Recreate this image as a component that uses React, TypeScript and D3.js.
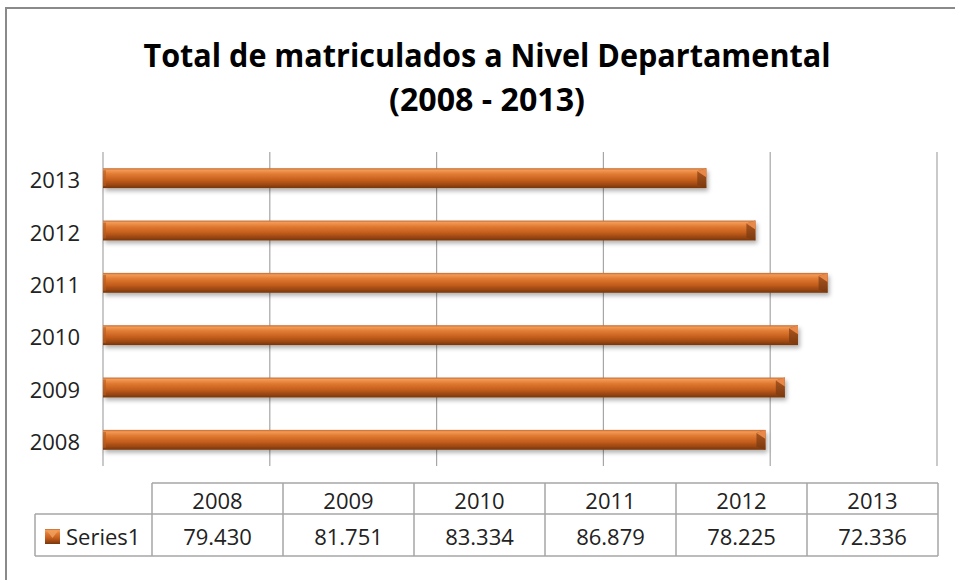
import React, { useRef, useEffect } from 'react';
import * as d3 from 'd3';

// chart data
const years = ['2008', '2009', '2010', '2011', '2012', '2013'];
const values = [79.43, 81.751, 83.334, 86.879, 78.225, 72.336];
const seriesName = 'Series1';
const xTicks = [0, 20, 40, 60, 80, 100];
const titleLines = ['Total de matriculados a Nivel Departamental', '(2008 - 2013)'];

const W = 955;
const H = 580;
const FONT = '"Open Sans", sans-serif';

export default function App() {
  const svgRef = useRef<SVGSVGElement>(null);

  useEffect(() => {
    if (!svgRef.current) return;
    const svg = d3.select(svgRef.current);
    svg.selectAll('*').remove();

    const data = years.map((y, i) => ({ year: y, value: values[i] }));

    // defs: gradients + shadow
    const defs = svg.append('defs');
    const grad = defs.append('linearGradient')
      .attr('id', 'barGrad')
      .attr('x1', 0).attr('y1', 0).attr('x2', 0).attr('y2', 1);
    [
      [0, '#c06a34'],
      [0.1, '#f39a55'],
      [0.3, '#e07a32'],
      [0.6, '#c45e1c'],
      [0.85, '#984512'],
      [1, '#76360e'],
    ].forEach(([o, c]) => grad.append('stop').attr('offset', o as number).attr('stop-color', c as string));

    const endGrad = defs.append('linearGradient')
      .attr('id', 'endGrad')
      .attr('x1', 0).attr('y1', 0).attr('x2', 0).attr('y2', 1);
    [
      [0, '#b05a22'],
      [1, '#7a380e'],
    ].forEach(([o, c]) => endGrad.append('stop').attr('offset', o as number).attr('stop-color', c as string));

    const shadow = defs.append('filter')
      .attr('id', 'shadow')
      .attr('x', '-5%').attr('y', '-50%').attr('width', '110%').attr('height', '200%');
    shadow.append('feDropShadow')
      .attr('dx', 2).attr('dy', 3).attr('stdDeviation', 2)
      .attr('flood-color', '#000').attr('flood-opacity', 0.3);

    // outer border (right/bottom run off the picture)
    svg.append('rect')
      .attr('x', 6).attr('y', 8)
      .attr('width', W + 20).attr('height', H + 20)
      .attr('fill', '#fff')
      .attr('stroke', '#8a8a8a')
      .attr('stroke-width', 2);

    // title
    const title = svg.append('g').attr('font-family', FONT).attr('font-weight', 'bold').attr('fill', '#000');
    const titleW = [687, 196];
    titleLines.forEach((t, i) => {
      title.append('text')
        .attr('x', 487)
        .attr('y', 67 + i * 44)
        .attr('text-anchor', 'middle')
        .attr('font-size', 33)
        .attr('textLength', titleW[i])
        .attr('lengthAdjust', 'spacingAndGlyphs')
        .text(t);
    });

    // scales
    const x = d3.scaleLinear().domain([0, 100]).range([103, 937]);
    const y = d3.scaleBand()
      .domain([...years].reverse())
      .range([152, 466])
      .paddingInner(0.62)
      .paddingOuter(0.31);

    // grid lines
    svg.append('g')
      .selectAll('line')
      .data(xTicks)
      .join('line')
      .attr('x1', d => x(d)).attr('x2', d => x(d))
      .attr('y1', 152).attr('y2', 466)
      .attr('stroke', '#a6a6a6')
      .attr('stroke-width', 1.2);

    // y axis labels
    svg.append('g')
      .selectAll('text')
      .data(years)
      .join('text')
      .attr('x', 80)
      .attr('y', d => y(d)! + y.bandwidth() / 2 + 1)
      .attr('text-anchor', 'end')
      .attr('dominant-baseline', 'central')
      .attr('font-family', FONT)
      .attr('font-size', 22)
      .attr('fill', '#222')
      .text(d => d);

    // bars
    const bars = svg.append('g')
      .selectAll('g.bar')
      .data(data)
      .join('g')
      .attr('class', 'bar');

    const bw = y.bandwidth();
    bars.append('rect')
      .attr('x', x(0))
      .attr('y', d => y(d.year)!)
      .attr('width', d => x(d.value) - x(0))
      .attr('height', bw)
      .attr('fill', 'url(#barGrad)')
      .attr('filter', 'url(#shadow)');

    // bevel at the right end
    bars.append('polygon')
      .attr('points', d => {
        const x1 = x(d.value), y0 = y(d.year)!, y1 = y0 + bw;
        return [[x1 - 9, y0 + 3], [x1, y0], [x1, y1], [x1 - 9, y1 - 3]].map(p => p.join(',')).join(' ');
      })
      .attr('fill', 'url(#endGrad)');
    bars.append('polygon')
      .attr('points', d => {
        const x1 = x(d.value), y0 = y(d.year)!;
        return [[x1 - 9, y0 + 3], [x1, y0], [x1, y0 + 9]].map(p => p.join(',')).join(' ');
      })
      .attr('fill', '#e8894a');
    // left bevel edge
    bars.append('rect')
      .attr('x', x(0))
      .attr('y', d => y(d.year)! + 2)
      .attr('width', 3)
      .attr('height', bw - 4)
      .attr('fill', '#b85c1e')
      .attr('opacity', 0.6);

    // data table
    const colX0 = 152, colW = 131;
    const rowTop = 483, rowMid = 514, rowBot = 556, leftX = 35;
    const table = svg.append('g').attr('font-family', FONT).attr('font-size', 22).attr('fill', '#222');
    const line = (x1: number, y1: number, x2: number, y2: number) =>
      table.append('line')
        .attr('x1', x1).attr('y1', y1).attr('x2', x2).attr('y2', y2)
        .attr('stroke', '#a6a6a6').attr('stroke-width', 1.5);

    line(colX0, rowTop, colX0 + colW * years.length, rowTop);
    line(leftX, rowMid, colX0 + colW * years.length, rowMid);
    line(leftX, rowBot, colX0 + colW * years.length, rowBot);
    line(leftX, rowMid, leftX, rowBot);
    d3.range(years.length + 1).forEach(i => line(colX0 + colW * i, rowTop, colX0 + colW * i, rowBot));

    table.selectAll('text.head')
      .data(years)
      .join('text')
      .attr('class', 'head')
      .attr('x', (_, i) => colX0 + colW * i + colW / 2)
      .attr('y', (rowTop + rowMid) / 2 + 1)
      .attr('text-anchor', 'middle')
      .attr('dominant-baseline', 'central')
      .text(d => d);

    table.selectAll('text.val')
      .data(values)
      .join('text')
      .attr('class', 'val')
      .attr('x', (_, i) => colX0 + colW * i + colW / 2)
      .attr('y', (rowMid + rowBot) / 2 + 1)
      .attr('text-anchor', 'middle')
      .attr('dominant-baseline', 'central')
      .text(d => d.toFixed(3));

    // legend key + series name
    const key = table.append('g').attr('transform', 'translate(45,529)');
    key.append('rect').attr('width', 15).attr('height', 15).attr('fill', 'url(#barGrad)');
    key.append('polygon').attr('points', '2,2 13,2 7.5,9').attr('fill', '#f0a060').attr('opacity', 0.8);
    table.append('text')
      .attr('x', 66)
      .attr('y', (rowMid + rowBot) / 2 + 1)
      .attr('dominant-baseline', 'central')
      .text(seriesName);
  }, []);

  return (
    <svg
      ref={svgRef}
      width={W}
      height={H}
      style={{ position: 'absolute', left: 0, top: 0, background: '#fff' }}
    />
  );
}
